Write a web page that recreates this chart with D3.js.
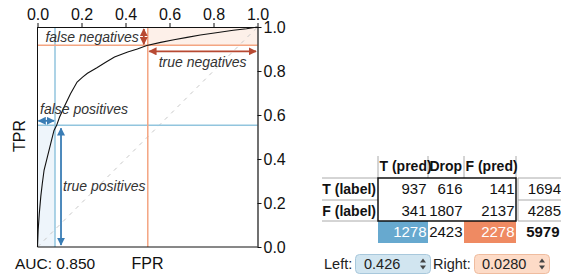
<!DOCTYPE html>
<html lang="en">
<head>
    <meta charset="UTF-8">
    <title>ROC threshold</title>
    <script src="https://d3js.org/d3.v7.min.js"></script>
    <style>
        body { margin: 0; background: #fff; }
        svg { display: block; font-family: "Helvetica Neue", Helvetica, "Liberation Sans", Arial, sans-serif; }
        .axis text { font-size: 16px; fill: #111; }
        .axis path, .axis line { stroke: #111; }
        .note { font-size: 14px; font-style: italic; fill: #333; }
        .tbl { font-size: 15px; fill: #111; }
        .tbl .b { font-weight: bold; font-size: 14px; }
        .ctl { font-size: 14.5px; fill: #222; }
    </style>
</head>
<body>
<svg width="561" height="275"></svg>

<script>
    // ROC curve
    const rocFpr = [0, 0.003, 0.008, 0.015, 0.022, 0.03, 0.045, 0.06, 0.075, 0.087, 0.1, 0.121, 0.15, 0.18, 0.205, 0.227, 0.27, 0.31, 0.35, 0.41, 0.454, 0.497, 0.56, 0.62, 0.68, 0.74, 0.82, 0.89, 0.95, 1];
    const rocTpr = [0, 0.077, 0.15, 0.23, 0.29, 0.35, 0.41, 0.47, 0.53, 0.553, 0.59, 0.636, 0.697, 0.75, 0.772, 0.79, 0.815, 0.84, 0.864, 0.886, 0.9, 0.916, 0.93, 0.942, 0.953, 0.964, 0.975, 0.985, 0.992, 1];
    const tickValues = [0, 0.2, 0.4, 0.6, 0.8, 1.0];
    const aucValue = 0.850;

    // confusion table
    const colLabels = ["T (pred)", "Drop", "F (pred)"];
    const rowLabels = ["T (label)", "F (label)"];
    const counts = [[937, 616, 141], [341, 1807, 2137]];
    const rowTotals = [1694, 4285];
    const colTotals = [1278, 2423, 2278];
    const grandTotal = 5979;
    const leftValue = "0.426";
    const rightValue = "0.0280";

    // operating points from the counts
    const fprLeft = counts[1][0] / rowTotals[1], tprLeft = counts[0][0] / rowTotals[0];
    const fprRight = 1 - counts[1][2] / rowTotals[1], tprRight = 1 - counts[0][2] / rowTotals[0];

    const svg = d3.select("svg");
    const blueLine = "#92c5de", orangeLine = "#f4a582";
    const blueDark = "#3a7db5", redDark = "#b84a33";

    const x = d3.scaleLinear().domain([0, 1]).range([37.5, 257.5]);
    const y = d3.scaleLinear().domain([0, 1]).range([247, 27]);

    // arrow heads
    const defs = svg.append("defs");
    [["blue", blueDark], ["red", redDark]].forEach(function (m) {
        defs.append("marker").attr("id", "ah-" + m[0])
            .attr("viewBox", "0 0 10 10").attr("refX", 9).attr("refY", 5)
            .attr("markerWidth", 4.5).attr("markerHeight", 4.5)
            .attr("orient", "auto-start-reverse")
            .append("path").attr("d", "M0,0L10,5L0,10Z").attr("fill", m[1]);
    });

    // shaded regions
    svg.append("rect")
        .attr("x", x(0)).attr("y", y(tprLeft))
        .attr("width", x(fprLeft) - x(0)).attr("height", y(0) - y(tprLeft))
        .attr("fill", "#eef5fb");
    svg.append("rect")
        .attr("x", x(fprRight)).attr("y", y(1))
        .attr("width", x(1) - x(fprRight)).attr("height", y(tprRight) - y(1))
        .attr("fill", "#fdf0e9");

    // chance diagonal
    svg.append("line")
        .attr("x1", x(0)).attr("y1", y(0)).attr("x2", x(1)).attr("y2", y(1))
        .attr("stroke", "#c8c8c8").attr("stroke-dasharray", "4,5");

    // threshold lines
    svg.append("line").attr("x1", x(fprLeft)).attr("x2", x(fprLeft)).attr("y1", y(0)).attr("y2", y(1))
        .attr("stroke", blueLine).attr("stroke-width", 1.5);
    svg.append("line").attr("x1", x(0)).attr("x2", x(1)).attr("y1", y(tprLeft)).attr("y2", y(tprLeft))
        .attr("stroke", blueLine).attr("stroke-width", 1.5);
    svg.append("line").attr("x1", x(fprRight)).attr("x2", x(fprRight)).attr("y1", y(0)).attr("y2", y(1))
        .attr("stroke", orangeLine).attr("stroke-width", 1.5);
    svg.append("line").attr("x1", x(0)).attr("x2", x(1)).attr("y1", y(tprRight)).attr("y2", y(tprRight))
        .attr("stroke", orangeLine).attr("stroke-width", 1.5);

    // roc curve
    const line = d3.line().x(function (d, i) { return x(rocFpr[i]); }).y(function (d) { return y(d); });
    svg.append("path").datum(rocTpr)
        .attr("d", line).attr("fill", "none")
        .attr("stroke", "#111").attr("stroke-width", 1.1);

    // frame
    svg.append("line").attr("x1", x(0)).attr("x2", x(0)).attr("y1", y(0)).attr("y2", y(1)).attr("stroke", "#111");
    svg.append("line").attr("x1", x(0)).attr("x2", x(1)).attr("y1", y(0)).attr("y2", y(0)).attr("stroke", "#111");

    svg.append("g").attr("class", "axis").attr("transform", "translate(0," + y(1) + ")")
        .call(d3.axisTop(x).tickValues(tickValues).tickFormat(d3.format(".1f")).tickSize(4).tickSizeOuter(0).tickPadding(3));
    svg.append("g").attr("class", "axis").attr("transform", "translate(" + x(1) + ",0)")
        .call(d3.axisRight(y).tickValues(tickValues).tickFormat(d3.format(".1f")).tickSize(4).tickSizeOuter(0).tickPadding(2));
    svg.selectAll(".axis .domain").attr("stroke-width", 1.2);

    // arrows
    function arrow(x1, y1, x2, y2, col, id) {
        svg.append("line").attr("x1", x1).attr("y1", y1).attr("x2", x2).attr("y2", y2)
            .attr("stroke", col).attr("stroke-width", 1.8)
            .attr("marker-start", "url(#ah-" + id + ")").attr("marker-end", "url(#ah-" + id + ")");
    }
    arrow(x(0) + 1, y(tprLeft) - 4.5, x(fprLeft) - 1, y(tprLeft) - 4.5, blueDark, "blue");
    arrow(x(fprLeft) + 6, y(tprLeft) + 3, x(fprLeft) + 6, y(0) - 2, blueDark, "blue");
    arrow(x(fprRight) - 4, y(1) + 2, x(fprRight) - 4, y(tprRight) - 1, redDark, "red");
    arrow(x(fprRight) + 1.5, y(tprRight) + 6, x(1) - 1.5, y(tprRight) + 6, redDark, "red");

    svg.append("text").attr("class", "note").attr("x", x(fprRight) - 9).attr("y", 42).attr("text-anchor", "end").text("false negatives");
    svg.append("text").attr("class", "note").attr("x", (x(fprRight) + x(1)) / 2).attr("y", 67).attr("text-anchor", "middle").text("true negatives");
    svg.append("text").attr("class", "note").attr("x", 40).attr("y", 114).text("false positives");
    svg.append("text").attr("class", "note").attr("x", 63).attr("y", 191).text("true positives");

    // axis titles
    svg.append("text").attr("transform", "translate(25,136) rotate(-90)").attr("text-anchor", "middle")
        .attr("font-size", 16).attr("fill", "#111").text("TPR");
    svg.append("text").attr("x", x(0.5)).attr("y", 269).attr("text-anchor", "middle")
        .attr("font-size", 16).attr("fill", "#111").text("FPR");
    svg.append("text").attr("x", 15).attr("y", 269)
        .attr("font-size", 15.5).attr("fill", "#111").text("AUC: " + d3.format(".3f")(aucValue));

    // table
    const colEdges = [378, 428, 464, 516];
    const rowEdges = [178, 200, 221, 243];
    const totX = [518, 561];
    const tbl = svg.append("g").attr("class", "tbl");

    colEdges.forEach(function (cx) {
        tbl.append("line").attr("x1", cx).attr("x2", cx).attr("y1", 156).attr("y2", rowEdges[0]).attr("stroke", "#aaa");
    });
    colLabels.forEach(function (c, j) {
        tbl.append("text").attr("class", "b").attr("x", colEdges[j] + 1.5).attr("y", 171).text(c);
    });
    rowEdges.slice(0, 3).forEach(function (ry) {
        tbl.append("line").attr("x1", 322).attr("x2", colEdges[0]).attr("y1", ry).attr("y2", ry).attr("stroke", "#aaa");
        tbl.append("line").attr("x1", totX[0]).attr("x2", totX[1]).attr("y1", ry).attr("y2", ry).attr("stroke", "#aaa");
    });
    tbl.append("line").attr("x1", totX[0]).attr("x2", totX[0]).attr("y1", rowEdges[0]).attr("y2", rowEdges[2]).attr("stroke", "#aaa");

    // bottom row fills
    tbl.append("rect").attr("x", colEdges[0]).attr("y", rowEdges[2]).attr("width", colEdges[1] - colEdges[0])
        .attr("height", rowEdges[3] - rowEdges[2]).attr("fill", "#67a9cf");
    tbl.append("rect").attr("x", colEdges[2]).attr("y", rowEdges[2]).attr("width", colEdges[3] - colEdges[2])
        .attr("height", rowEdges[3] - rowEdges[2]).attr("fill", "#ef8a62");

    tbl.append("rect").attr("x", colEdges[0]).attr("y", rowEdges[0])
        .attr("width", colEdges[3] - colEdges[0]).attr("height", rowEdges[2] - rowEdges[0])
        .attr("fill", "none").attr("stroke", "#111").attr("stroke-width", 1.5);

    rowLabels.forEach(function (r, i) {
        tbl.append("text").attr("class", "b").attr("x", colEdges[0] - 2).attr("y", rowEdges[i] + 16)
            .attr("text-anchor", "end").text(r);
        counts[i].forEach(function (v, j) {
            tbl.append("text").attr("x", colEdges[j + 1] - 1.5).attr("y", rowEdges[i] + 16)
                .attr("text-anchor", "end").text(v);
        });
        tbl.append("text").attr("x", totX[1]).attr("y", rowEdges[i] + 16)
            .attr("text-anchor", "end").text(rowTotals[i]);
    });
    colTotals.forEach(function (v, j) {
        tbl.append("text").attr("x", colEdges[j + 1] - 1.5).attr("y", rowEdges[2] + 16)
            .attr("text-anchor", "end").attr("fill", j === 1 ? "#111" : "#fff").text(v);
    });
    tbl.append("text").attr("class", "b").attr("x", totX[1] - 1.5).attr("y", rowEdges[2] + 16)
        .attr("text-anchor", "end").style("font-size", "15px").text(grandTotal);

    // threshold inputs
    function spinner(g, sx, sy) {
        g.append("path").attr("d", "M" + (sx - 3) + "," + (sy - 1.5) + "L" + sx + "," + (sy - 5.5) + "L" + (sx + 3) + "," + (sy - 1.5) + "Z").attr("fill", "#444");
        g.append("path").attr("d", "M" + (sx - 3) + "," + (sy + 1.5) + "L" + sx + "," + (sy + 5.5) + "L" + (sx + 3) + "," + (sy + 1.5) + "Z").attr("fill", "#444");
    }
    const ctl = svg.append("g").attr("class", "ctl");
    ctl.append("text").attr("x", 324).attr("y", 269).text("Left:");
    ctl.append("rect").attr("x", 355.5).attr("y", 254.5).attr("width", 75).attr("height", 19).attr("rx", 4)
        .attr("fill", "#d1e5f0").attr("stroke", "#a8c8dc");
    ctl.append("text").attr("x", 364).attr("y", 269).text(leftValue);
    spinner(ctl, 423, 264);
    ctl.append("text").attr("x", 433).attr("y", 269).text("Right:");
    ctl.append("rect").attr("x", 474.5).attr("y", 254.5).attr("width", 75).attr("height", 19).attr("rx", 4)
        .attr("fill", "#fddbc7").attr("stroke", "#efbc9f");
    ctl.append("text").attr("x", 482).attr("y", 269).text(rightValue);
    spinner(ctl, 542, 264);
</script>
</body>
</html>
